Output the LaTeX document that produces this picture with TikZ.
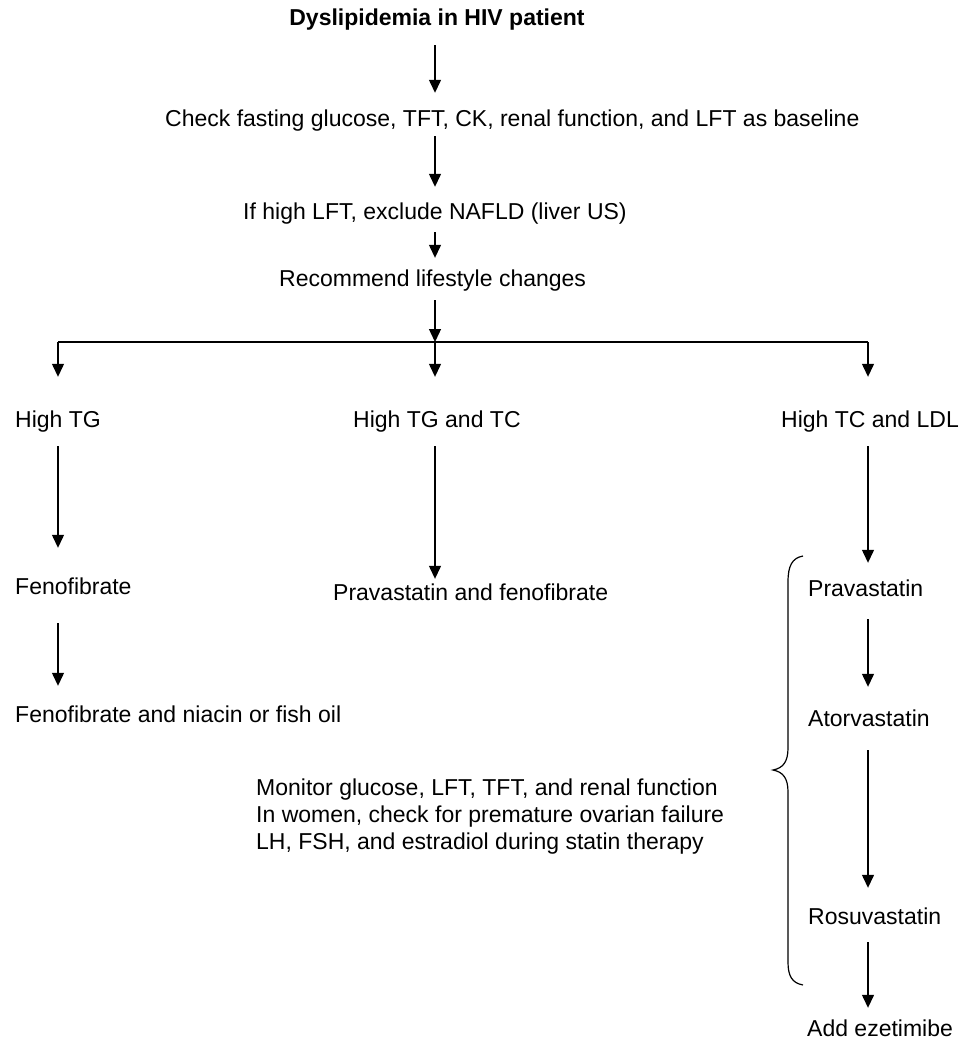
\documentclass[tikz,border=0pt]{standalone}
\usepackage{fontspec}
\setmainfont{Liberation Sans}
\usetikzlibrary{arrows.meta,calc}
\begin{document}
\begin{tikzpicture}[x=1pt,y=-1pt,
  txt/.style={inner sep=0pt, text height=17pt, text depth=5pt, font=\fontsize{23}{27}\selectfont},
  arr/.style={line width=1.3pt, -{Triangle[width=12pt,length=13pt]}},
  ln/.style={line width=1.3pt}]
\useasboundingbox[fill=white] (0,0) rectangle (960,1049);
% top column
\node[txt,font=\fontsize{23}{27}\selectfont\bfseries] (title) at (437,20) {Dyslipidemia in HIV patient};
\node[txt,anchor=west] (check) at (165,120) {Check fasting glucose, TFT, CK, renal function, and LFT as baseline};
\node[txt,anchor=west] (ifl) at (243,213) {If high LFT, exclude NAFLD (liver US)};
\node[txt,anchor=west] (rec) at (279,280) {Recommend lifestyle changes};
% branch row
\node[txt,anchor=west] (tg) at (15,421) {High TG};
\node[txt,anchor=west] (tgtc) at (353,421) {High TG and TC};
\node[txt,anchor=west] (tcldl) at (781,421) {High TC and LDL};
% left column
\node[txt,anchor=west] (feno) at (15,588) {Fenofibrate};
\node[txt,anchor=west] (fenon) at (15,716) {Fenofibrate and niacin or fish oil};
% middle column
\node[txt,anchor=west] (pravf) at (333,594) {Pravastatin and fenofibrate};
% right column
\node[txt,anchor=west] (prav) at (808,590) {Pravastatin};
\node[txt,anchor=west] (atorv) at (808,720) {Atorvastatin};
\node[txt,anchor=west] (rosuv) at (808,918) {Rosuvastatin};
\node[txt,anchor=west] (ezet) at (807,1030) {Add ezetimibe};
% monitor note
\node[anchor=north west, inner sep=0pt, align=left, font=\fontsize{23}{27}\selectfont] (mon) at (256,779)
  {Monitor glucose, LFT, TFT, and renal function\\In women, check for premature ovarian failure\\LH, FSH, and estradiol during statin therapy};
% coordinates
\coordinate (lc) at (58,0);
\coordinate (mc) at (435,0);
\coordinate (rc) at (868,0);
\coordinate (split) at (435,342);
\coordinate (bl) at (58,342);
\coordinate (br) at (868,342);
% top arrows
\draw[arr, shorten <=14pt, shorten >=16pt] (title.south -| mc) -- (check.north -| mc);
\draw[arr, shorten <=5pt, shorten >=15pt] (check.south -| mc) -- (ifl.north -| mc);
\draw[arr, shorten <=8pt, shorten >=11pt] (ifl.south -| mc) -- (rec.north -| mc);
\draw[arr, shorten <=9pt] (rec.south -| mc) -- (split);
\draw[ln] (bl) -- (br);
\draw[arr, shorten >=33pt] (bl) -- (tg.north -| lc);
\draw[arr, shorten >=33pt] (split) -- (tgtc.north -| mc);
\draw[arr, shorten >=33pt] (br) -- (tcldl.north -| rc);
% left column arrows
\draw[arr, shorten <=14pt, shorten >=29pt] (tg.south -| lc) -- (feno.north -| lc);
\draw[arr, shorten <=24pt, shorten >=19pt] (feno.south -| lc) -- (fenon.north -| lc);
% middle
\draw[arr, shorten <=14pt, shorten >=4pt] (tgtc.south -| mc) -- (pravf.north -| mc);
% right column arrows
\draw[arr, shorten <=14pt, shorten >=16pt] (tcldl.south -| rc) -- (prav.north -| rc);
\draw[arr, shorten <=18pt, shorten >=22pt] (prav.south -| rc) -- (atorv.north -| rc);
\draw[arr, shorten <=19pt, shorten >=19pt] (atorv.south -| rc) -- (rosuv.north -| rc);
\draw[arr, shorten <=13pt, shorten >=11pt] (rosuv.south -| rc) -- (ezet.north -| rc);
% brace
\draw[line width=1.2pt] (803,556) .. controls (792,558) and (788,566) .. (788,582) -- (788,748)
  .. controls (788,762) and (783,768) .. (773,770)
  .. controls (783,772) and (788,778) .. (788,792) -- (788,962)
  .. controls (788,976) and (792,983) .. (803,985);
\end{tikzpicture}
\end{document}
